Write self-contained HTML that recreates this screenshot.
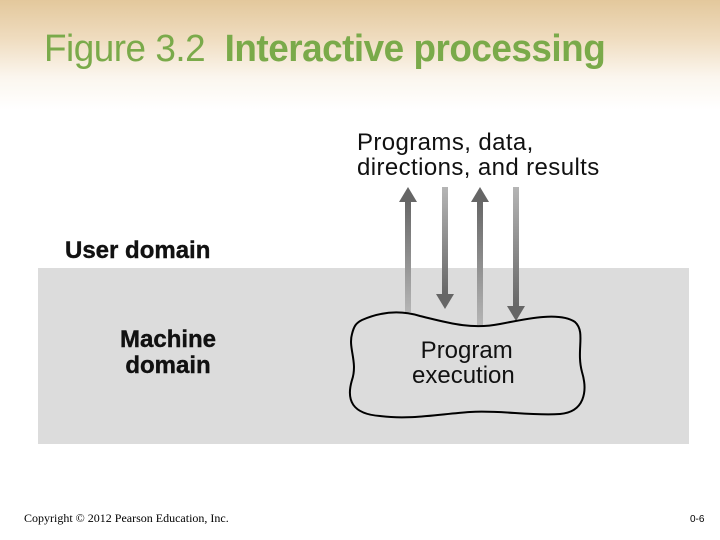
<!DOCTYPE html>
<html><head><meta charset="utf-8"><style>
body{margin:0;width:720px;height:540px;overflow:hidden;background:#fff;position:relative;font-family:"Liberation Sans",sans-serif}
.hdr{position:absolute;left:0;top:0;width:720px;height:110px;background:linear-gradient(#e3c89c 0%,#efdcbf 35%,#fbf6ee 70%,#fff 100%)}
.t{position:absolute;left:44px;top:28px;font-size:38px;color:#7aaa4a;letter-spacing:-0.5px;transform:scaleX(0.97);transform-origin:left;white-space:nowrap}
.panel{position:absolute;left:38px;top:268px;width:651px;height:176px;background:#dcdcdc}
.lab{position:absolute;font-weight:900;font-size:24px;color:#111;-webkit-text-stroke:0.4px #111}
.n{position:absolute;font-size:24px;color:#111;line-height:25px;white-space:nowrap}
.f{position:absolute;font-family:"Liberation Serif",serif;font-size:12px;color:#000}
</style></head><body>
<div class="hdr"></div>
<div class="t">Figure 3.2&nbsp; <b>Interactive processing</b></div>
<div class="panel"></div>
<div class="lab" style="left:65px;top:237px">User domain</div>
<div class="lab" style="left:120px;top:327px;text-align:center;line-height:26px">Machine<br>domain</div>
<div class="n" style="left:357px;top:130px;letter-spacing:0.4px">Programs, data,<br>directions, and results</div>
<svg width="720" height="540" style="position:absolute;left:0;top:0">
<defs>
<linearGradient id="gu" x1="0" y1="1" x2="0" y2="0"><stop offset="0" stop-color="#b5b5b5"/><stop offset="1" stop-color="#666"/></linearGradient>
<linearGradient id="gd" x1="0" y1="0" x2="0" y2="1"><stop offset="0" stop-color="#b5b5b5"/><stop offset="1" stop-color="#666"/></linearGradient>
</defs>
<rect x="405" y="200" width="6" height="112" fill="url(#gu)"/><polygon points="399,202 408,187 417,202" fill="#666"/>
<rect x="477" y="200" width="6" height="125" fill="url(#gu)"/><polygon points="471,202 480,187 489,202" fill="#666"/>
<rect x="442" y="187" width="6" height="108" fill="url(#gd)"/><polygon points="436,294 445,309 454,294" fill="#666"/>
<rect x="513" y="187" width="6" height="120" fill="url(#gd)"/><polygon points="507,306 516,321 525,306" fill="#666"/>
<path d="M362,320 C380,312 400,310 420,316 C445,322 470,330 500,324 C530,318 560,312 575,322 C586,332 576,350 582,372 C588,392 584,412 560,414 C530,416 500,410 470,412 C440,414 410,420 380,416 C352,414 346,400 352,380 C358,362 348,348 352,334 C354,326 356,323 362,320 Z" fill="#dcdcdc" stroke="#000" stroke-width="2"/>
</svg>
<div class="n" style="left:412px;top:338px;text-align:center">&nbsp;Program<br>execution</div>
<div class="f" style="left:24px;top:511px">Copyright © 2012 Pearson Education, Inc.</div>
<div class="f" style="left:690px;top:514px;font-family:'Liberation Sans',sans-serif;font-size:10px">0-6</div>
</body></html>
